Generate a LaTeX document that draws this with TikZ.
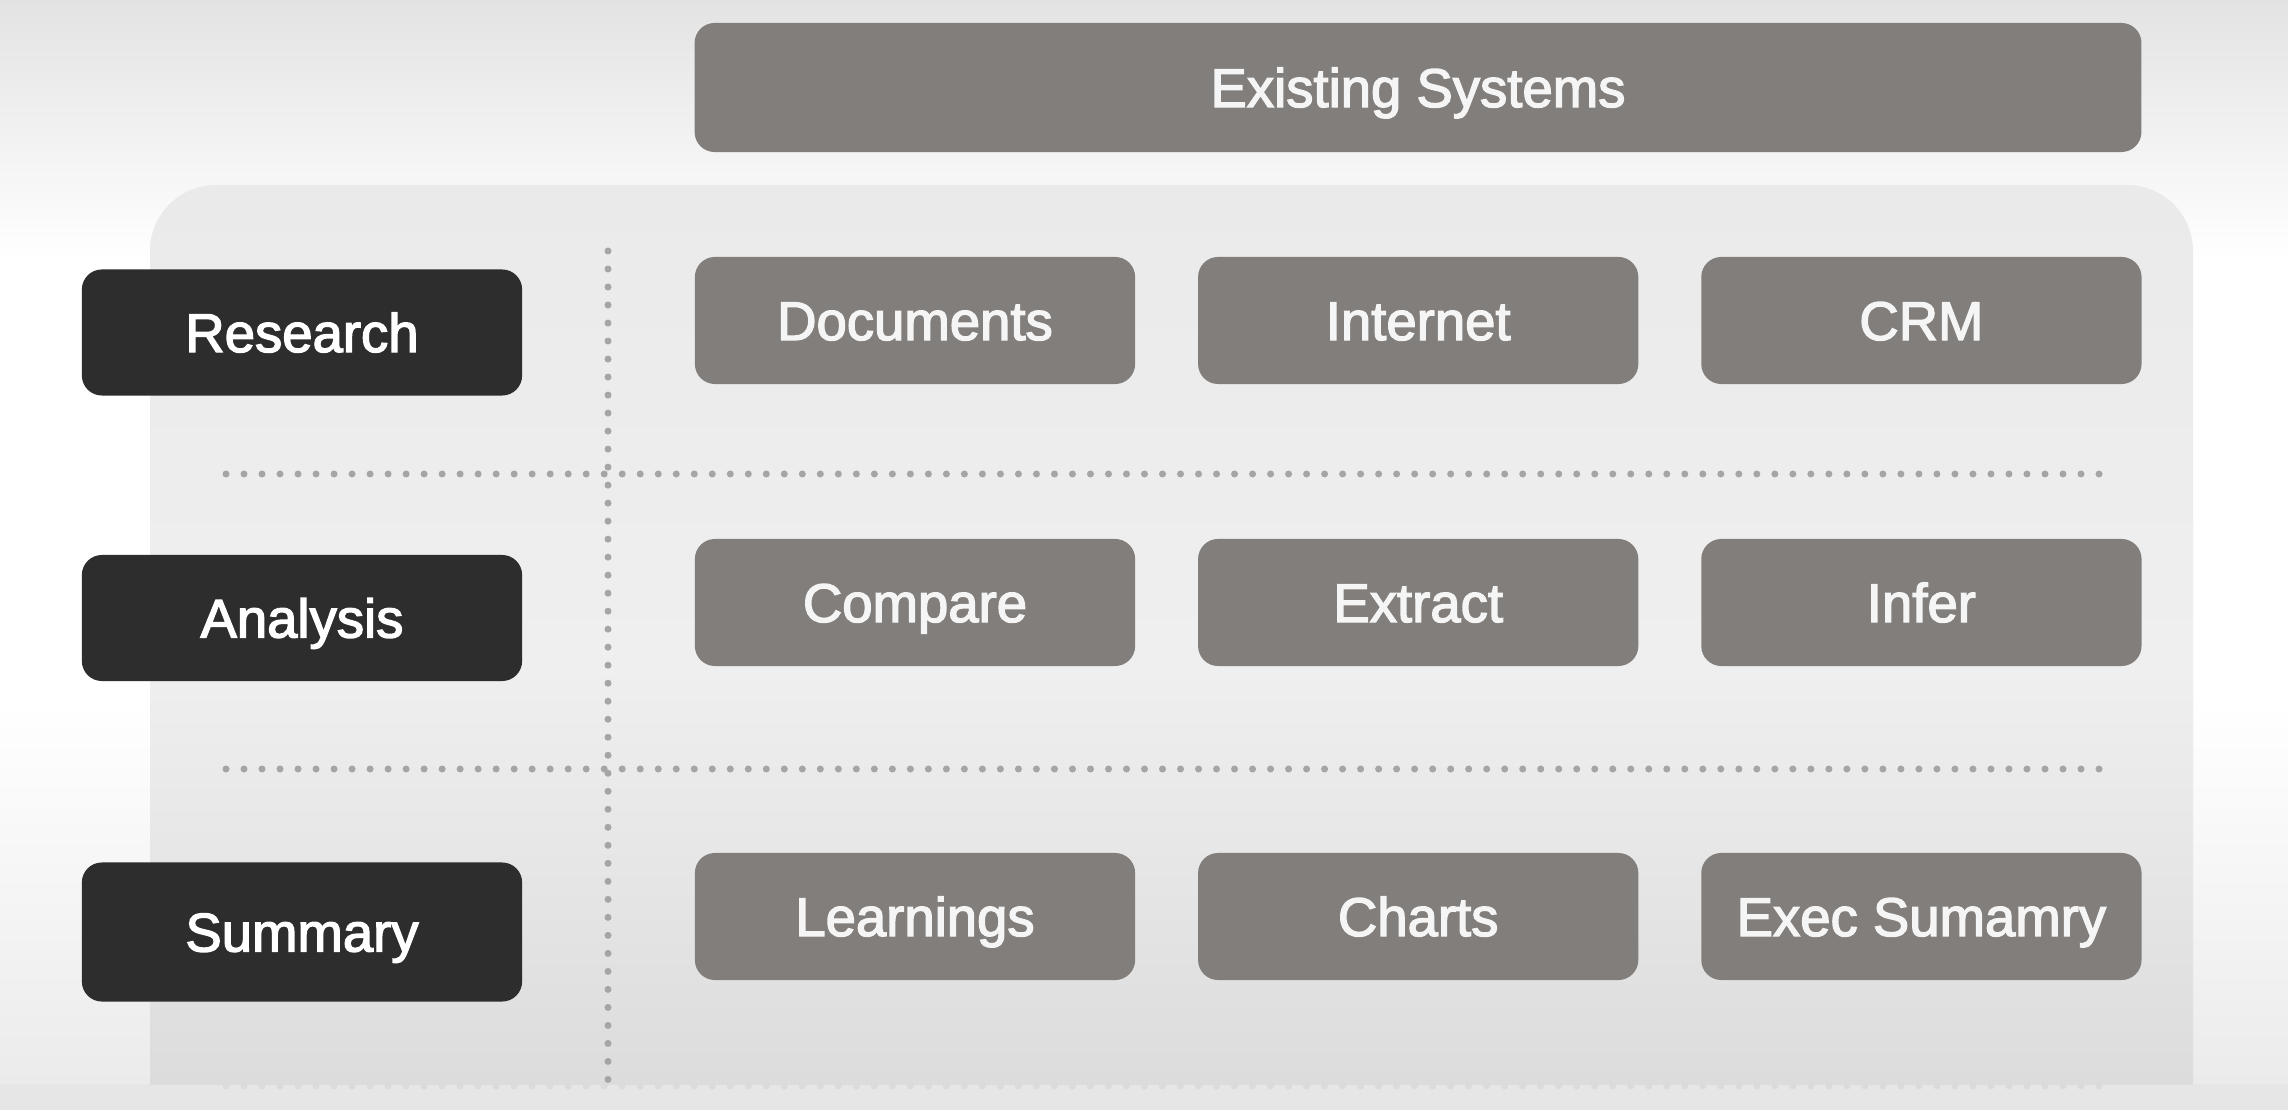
\documentclass[tikz,border=0pt]{standalone}
\usepackage{fontspec}
\setmainfont{Liberation Sans}
\newfontfamily\boxfont[FakeBold=2.5]{Liberation Sans}
\usetikzlibrary{positioning}
\definecolor{stagegray}{HTML}{2D2D2D}
\definecolor{toolgray}{HTML}{827E7B}
\definecolor{dotgray}{HTML}{A5A5A5}
\definecolor{bgtop}{HTML}{E3E3E3}
\definecolor{bgbottom}{HTML}{E6E6E6}
\definecolor{paneltop}{HTML}{EAEAEA}
\definecolor{panelmid}{HTML}{EFEFEF}
\definecolor{panelbottom}{HTML}{D9D9D9}
\tikzstyle{stage} = [rectangle, fill=stagegray, text=white, inner sep=0pt,
    minimum width=4.4cm, minimum height=1.26cm, rounded corners=0.2cm,
    text height=11.1pt, text depth=0pt,
    font=\boxfont\fontsize{15.5}{18}\selectfont]
\tikzstyle{tool} = [rectangle, fill=toolgray, text=white!96!black, inner sep=0pt,
    minimum width=4.4cm, minimum height=1.27cm, rounded corners=0.2cm,
    text height=11.1pt, text depth=0pt,
    font=\boxfont\fontsize{15.5}{18}\selectfont]
\tikzstyle{grid} = [draw=dotgray, line width=0.07cm, line cap=round,
    dash pattern=on 0pt off 0.18cm]

\begin{document}
\begin{tikzpicture}[x=0.01cm, y=-0.01cm, node distance=0.615cm]
	\useasboundingbox (0,0) rectangle (2288,1110);
	% background
	\fill[white] (0,0) rectangle (2288,1110);
	\shade[top color=bgtop, bottom color=white] (0,0) rectangle (2288,260);
	\shade[top color=white, bottom color=bgbottom!80!white] (0,700) rectangle (2288,1084);
	\fill[bgbottom] (0,1084) rectangle (2288,1110);
	\begin{scope}
		\clip (0,0) rectangle (2288,1084);
		\shade[top color=paneltop, bottom color=panelbottom, middle color=panelmid,
		    rounded corners=0.66cm] (150,185) rectangle (2193,1150);
	\end{scope}

	% dotted grid
	\draw[grid] (226,474) -- (2104,474);
	\draw[grid] (226,769) -- (2104,769);
	\draw[grid, draw=dotgray!40] (226,1086) -- (2104,1086);
	\draw[grid] (608,251) -- (608,1084);

	\node [tool, minimum width=14.46cm, minimum height=1.29cm] (existing) at (1418,87.5) {Existing Systems};

	\node [stage] (research) at (302,332.5) {Research};
	\node [stage] (analysis) at (302,618) {Analysis};
	\node [stage, minimum height=1.39cm] (summary) at (302,932) {Summary};

	\node [tool] (documents) at (915,320.5) {Documents};
	\node [tool, right=of documents] (internet) {Internet};
	\node [tool, right=of internet] (crm) {CRM};

	\node [tool] (compare) at (915,602.5) {Compare};
	\node [tool, right=of compare] (extract) {Extract};
	\node [tool, right=of extract] (infer) {Infer};

	\node [tool] (learnings) at (915,916.5) {Learnings};
	\node [tool, right=of learnings] (charts) {Charts};
	\node [tool, right=of charts] (execsummary) {Exec Sumamry};
\end{tikzpicture}
\end{document}
